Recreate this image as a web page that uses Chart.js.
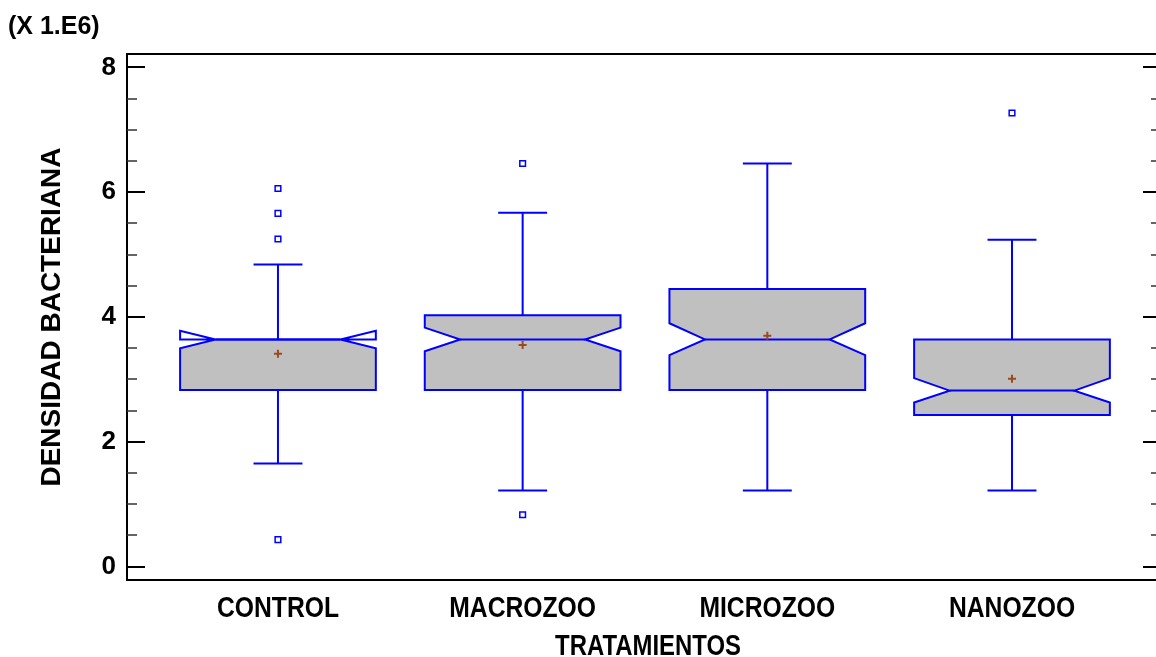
<!DOCTYPE html>
<html>
<head>
<meta charset="utf-8">
<script src="https://cdn.jsdelivr.net/npm/chart.js@4.4.1/dist/chart.umd.min.js"></script>
<style>
  html, body { margin: 0; padding: 0; background: #fff; overflow: hidden; }
  #wrap { width: 1172px; height: 657px; }
</style>
</head>
<body>
<div id="wrap"><canvas id="chart" width="1172" height="657"></canvas></div>
<script>
// values in units of 1.E6
const categories = ['CONTROL', 'MACROZOO', 'MICROZOO', 'NANOZOO'];
const whiskerLow = [1.65, 1.22, 1.22, 1.22];
const q1 = [2.83, 2.83, 2.83, 2.43];
const notchLow = [3.50, 3.45, 3.39, 2.63];
const median = [3.64, 3.64, 3.64, 2.82];
const notchHigh = [3.78, 3.83, 3.90, 3.02];
const q3 = [3.64, 4.03, 4.45, 3.64];
const whiskerHigh = [4.84, 5.67, 6.46, 5.24];
const means = [3.41, 3.55, 3.70, 3.01];
const outliers = [[6.06, 5.66, 5.25, 0.43], [6.46, 0.83], [], [7.27]];
const yTicks = [0, 2, 4, 6, 8];

const FONT = '"Liberation Sans", Arial, sans-serif';
const BLUE = '#0000ff';

// box geometry in x-axis units
const boxHalf = 0.4;
const notchInset = 0.145;
const capHalf = 0.1;

const boxPlugin = {
  id: 'notchedBoxes',
  beforeDatasetsDraw(chart) {
    const { ctx, scales: { x, y } } = chart;
    ctx.save();
    categories.forEach((c, i) => {
      const pos = i + 1;
      const cx = x.getPixelForValue(pos);
      const L = x.getPixelForValue(pos - boxHalf);
      const R = x.getPixelForValue(pos + boxHalf);
      const Li = x.getPixelForValue(pos - boxHalf + notchInset);
      const Ri = x.getPixelForValue(pos + boxHalf - notchInset);
      const capL = x.getPixelForValue(pos - capHalf);
      const capR = x.getPixelForValue(pos + capHalf);
      const yq1 = y.getPixelForValue(q1[i]);
      const yq3 = y.getPixelForValue(q3[i]);
      const ymed = y.getPixelForValue(median[i]);
      const ynl = y.getPixelForValue(notchLow[i]);
      const ynh = y.getPixelForValue(notchHigh[i]);
      // fill, notch clamped to the box
      const fnl = y.getPixelForValue(Math.max(notchLow[i], q1[i]));
      const fnh = y.getPixelForValue(Math.min(notchHigh[i], q3[i]));
      ctx.beginPath();
      ctx.moveTo(L, yq1);
      ctx.lineTo(L, fnl);
      ctx.lineTo(Li, ymed);
      ctx.lineTo(L, fnh);
      ctx.lineTo(L, yq3);
      ctx.lineTo(R, yq3);
      ctx.lineTo(R, fnh);
      ctx.lineTo(Ri, ymed);
      ctx.lineTo(R, fnl);
      ctx.lineTo(R, yq1);
      ctx.closePath();
      ctx.fillStyle = '#c0c0c0';
      ctx.fill();

      ctx.strokeStyle = BLUE;
      ctx.lineWidth = 2;
      ctx.beginPath();
      ctx.moveTo(L, yq1);
      ctx.lineTo(L, ynl);
      ctx.lineTo(Li, ymed);
      ctx.lineTo(L, ynh);
      ctx.lineTo(L, yq3);
      ctx.lineTo(R, yq3);
      ctx.lineTo(R, ynh);
      ctx.lineTo(Ri, ymed);
      ctx.lineTo(R, ynl);
      ctx.lineTo(R, yq1);
      ctx.closePath();
      ctx.stroke();

      // median
      ctx.beginPath();
      ctx.moveTo(Li, ymed);
      ctx.lineTo(Ri, ymed);
      ctx.stroke();

      // whiskers
      const ywl = y.getPixelForValue(whiskerLow[i]);
      const ywh = y.getPixelForValue(whiskerHigh[i]);
      ctx.beginPath();
      ctx.moveTo(cx, yq3);
      ctx.lineTo(cx, ywh);
      ctx.moveTo(capL, ywh);
      ctx.lineTo(capR, ywh);
      ctx.moveTo(cx, yq1);
      ctx.lineTo(cx, ywl);
      ctx.moveTo(capL, ywl);
      ctx.lineTo(capR, ywl);
      ctx.stroke();
    });
    ctx.restore();
  }
};

const framePlugin = {
  id: 'frame',
  afterDatasetsDraw(chart) {
    const { ctx, chartArea: a, scales: { y } } = chart;
    ctx.save();
    ctx.strokeStyle = '#000';
    ctx.lineWidth = 2;
    ctx.beginPath();
    ctx.moveTo(chart.width, a.top);
    ctx.lineTo(a.left, a.top);
    ctx.lineTo(a.left, a.bottom);
    ctx.lineTo(chart.width, a.bottom);
    ctx.stroke();
    // inward ticks on left and right
    for (let v = yTicks[0]; v <= yTicks[yTicks.length - 1] + 1e-9; v += 0.5) {
      const py = Math.round(y.getPixelForValue(v));
      const major = yTicks.includes(v);
      const len = major ? 18 : 10;
      ctx.lineWidth = major ? 2 : 1.5;
      ctx.strokeStyle = major ? '#000' : '#333';
      ctx.beginPath();
      ctx.moveTo(a.left, py);
      ctx.lineTo(a.left + len, py);
      ctx.moveTo(a.right, py);
      ctx.lineTo(a.right - len, py);
      ctx.stroke();
    }
    ctx.restore();
  }
};

// the x labels of the original are drawn tall and narrow
function tallText(ctx, text, x, baseline, size, stretch) {
  ctx.save();
  ctx.translate(x, baseline);
  ctx.scale(1, stretch);
  ctx.font = 'bold ' + size + 'px ' + FONT;
  ctx.textAlign = 'center';
  ctx.textBaseline = 'alphabetic';
  ctx.fillStyle = '#000';
  ctx.fillText(text, 0, 0);
  ctx.restore();
}

const xLabelPlugin = {
  id: 'xLabels',
  afterDraw(chart) {
    const { ctx, scales: { x } } = chart;
    x.ticks.forEach((t) => {
      tallText(ctx, categories[t.value - 1], x.getPixelForValue(t.value), x.top + 37, 24.7, 1.165);
    });
    tallText(ctx, 'TRATAMIENTOS', (x.left + x.right) / 2 + 4, x.top + 75, 23.9, 1.27);
  }
};

new Chart(document.getElementById('chart'), {
  type: 'scatter',
  data: {
    datasets: [
      {
        label: 'Media',
        data: means.map((m, i) => ({ x: i + 1, y: m })),
        pointStyle: 'cross',
        pointRadius: 4,
        borderWidth: 2,
        borderColor: '#9c4a1c',
        backgroundColor: '#9c4a1c',
      },
      {
        label: 'Atípicos',
        data: outliers.flatMap((vals, i) => vals.map((v) => ({ x: i + 1, y: v }))),
        pointStyle: 'rect',
        pointRadius: 4,
        borderWidth: 1.5,
        borderColor: BLUE,
        backgroundColor: '#fff',
      },
    ],
  },
  options: {
    responsive: false,
    animation: false,
    devicePixelRatio: 1,
    layout: { padding: { left: 8, right: 11, top: 0, bottom: 0 } },
    plugins: {
      legend: { display: false },
      tooltip: { enabled: false },
      title: {
        display: true,
        text: '(X 1.E6)',
        align: 'start',
        color: '#000',
        font: { family: FONT, size: 25, weight: 'bold', lineHeight: 1.2 },
        padding: { top: 12.5, bottom: 11.5 },
      },
    },
    scales: {
      x: {
        type: 'linear',
        min: 0.383,
        max: 4.609,
        grid: { display: false },
        border: { display: false },
        afterBuildTicks: (s) => { s.ticks = categories.map((_, i) => ({ value: i + 1 })); },
        afterFit: (s) => { s.height = 77; },
        ticks: { display: false },
      },
      y: {
        min: -0.216,
        max: 8.216,
        grid: { display: false, drawTicks: false, tickLength: 0 },
        border: { display: false },
        afterBuildTicks: (s) => { s.ticks = yTicks.map((v) => ({ value: v })); },
        afterFit: (s) => { s.width = 119; },
        ticks: {
          color: '#000',
          font: { family: FONT, size: 26, weight: 'bold' },
          padding: 11,
        },
        title: {
          display: true,
          text: 'DENSIDAD BACTERIANA',
          color: '#000',
          font: { family: FONT, size: 28, weight: 'bold', lineHeight: 1.2 },
          padding: { top: 27, bottom: 0 },
        },
      },
    },
  },
  plugins: [boxPlugin, framePlugin, xLabelPlugin],
});
</script>
</body>
</html>
